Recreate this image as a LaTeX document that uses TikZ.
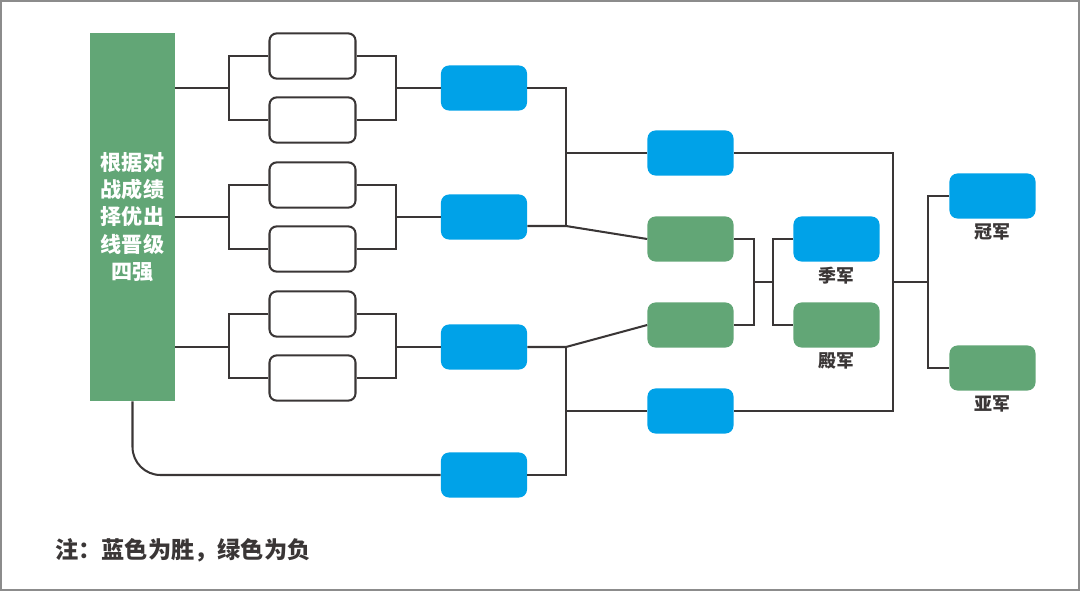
\documentclass[tikz,border=0pt]{standalone}
\usepackage{fontspec}
\setmainfont{Noto Sans CJK SC}
\usepackage{tikz}
\usetikzlibrary{positioning}
\usepackage{xcolor}

\definecolor{winblue}{RGB}{0,162,232}
\definecolor{losegreen}{RGB}{98,166,118}
\definecolor{linegray}{RGB}{58,54,54}

\tikzset{
	link/.style = {draw = linegray, line width = 1.45pt},
	slot/.style = {draw = linegray, line width = 1.45pt, fill = white, rounded corners = 0.18cm,
		minimum width = 2.15cm, minimum height = 1.13cm, inner sep = 0pt},
	winbox/.style = {fill = winblue, rounded corners = 0.2cm,
		minimum width = 2.15cm, minimum height = 1.125cm, inner sep = 0pt},
	losebox/.style = {fill = losegreen, rounded corners = 0.2cm,
		minimum width = 2.15cm, minimum height = 1.125cm, inner sep = 0pt},
	place/.style = {text = linegray, inner sep = 0pt, font = \fontsize{12.8pt}{14pt}\selectfont\bfseries}
}

\begin{document}
\begin{tikzpicture}[x = 0.025cm, y = -0.025cm]
		\useasboundingbox (0,0) rectangle (1080,591);
		\draw[draw = gray!90, line width = 0.05cm] (1,1) rectangle (1079,590);
		% qualifying block
		\node[fill = losegreen, minimum width = 2.125cm, minimum height = 9.2cm, inner sep = 0pt,
			text = white, align = center, font = \fontsize{15pt}{19.5pt}\selectfont\bfseries]
			(seed) at (132.5,217) {根据对\\战成绩\\择优出\\线晋级\\四强};
		% first round
		\node[slot] (w1) at (312.5,56) {};
		\node[slot] (w2) at (312.5,120) {};
		\node[slot] (w3) at (312.5,185) {};
		\node[slot] (w4) at (312.5,249) {};
		\node[slot] (w5) at (312.5,314) {};
		\node[slot] (w6) at (312.5,378) {};
		\node[winbox] (b1) at (484,88) {};
		\node[winbox] (b2) at (484,217) {};
		\node[winbox] (b3) at (484,347) {};
		\node[winbox] (b4) at (484,475) {};
		% semi finals
		\node[winbox] (b5) at (690.5,153) {};
		\node[losebox] (g6) at (690.5,239) {};
		\node[losebox] (g7) at (690.5,325) {};
		\node[winbox] (b8) at (690.5,411) {};
		% finals
		\node[winbox] (third) at (836.5,239) {};
		\node[losebox] (fourth) at (836.5,325) {};
		\node[winbox] (champ) at (992.5,196) {};
		\node[losebox] (runner) at (992.5,368) {};
		\node[place, below = 0.12cm of third] (thirdlab) {季军};
		\node[place, below = 0.12cm of fourth] (fourthlab) {殿军};
		\node[place, below = 0.12cm of champ] (champlab) {冠军};
		\node[place, below = 0.12cm of runner] (runnerlab) {亚军};
		\node[place, anchor = west, font = \fontsize{16.5pt}{18pt}\selectfont\bfseries] (note) at (55,550) {注：蓝色为胜，绿色为负};

		\foreach \g/\u/\l in {b1/w1/w2, b2/w3/w4, b3/w5/w6} {
			\draw[link] (\u.west) -- ++(-39,0) coordinate (lv) |- (\l.west);
			\draw[link] (seed.east |- \g) -- (\g -| lv);
			\draw[link] (\u.east) -- ++(39,0) coordinate (rv) |- (\l.east);
			\draw[link] (\g.west) -- (\g.west -| rv);
		}
		\draw[link, rounded corners = 0.7cm] (seed.south) |- (b4.west);

		\coordinate (ja) at (566,226);
		\coordinate (jb) at (566,347);
		\coordinate (jc) at (893,282);
		\coordinate (jd) at (754,282);
		\draw[link] (b1.east) -| (ja);
		\draw[link] ([yshift = -0.225cm]b2.east) -- (ja) -- (g6.west);
		\draw[link] (b5.west -| ja) -- (b5.west);
		\draw[link] (b3.east) -- (jb) -- (g7.west);
		\draw[link] (b4.east) -| (jb);
		\draw[link] (b8.west -| jb) -- (b8.west);

		\draw[link] (b5.east) -| (jc);
		\draw[link] (b8.east) -| (jc);
		\draw[link] (champ.west) -- ++(-21,0) coordinate (jv) |- (runner.west);
		\draw[link] (jc) -- (jc -| jv);

		\draw[link] (g6.east) -| (jd);
		\draw[link] (g7.east) -| (jd);
		\draw[link] (third.west) -- ++(-20,0) coordinate (jw) |- (fourth.west);
		\draw[link] (jd) -- (jd -| jw);
	\end{tikzpicture}
\end{document}
